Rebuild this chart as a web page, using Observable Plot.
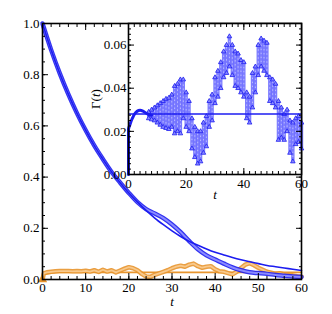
<!DOCTYPE html>
<html><head><meta charset="utf-8">
<script src="https://cdn.jsdelivr.net/npm/d3@7"></script>
<script src="https://cdn.jsdelivr.net/npm/@observablehq/plot@0.6"></script>
<style>
body{margin:0;background:#fff}
#c{position:relative;width:332px;height:314px;background:#fff}
#c svg{position:absolute;left:0;top:0;overflow:visible}
#c svg, #c svg text, #c svg g{font-family:"Liberation Serif","DejaVu Serif",serif !important;font-size:13px}
</style></head><body><div id="c"></div>
<script>
// ---- main panel data ----
const tMain = [0,2,4,6,8,10,12,14,16,18,20,22,24,26,28,30,32,34,36,38,40,42,44,46,48,50,52,54,56,58,60];
const fitMain = [1,0.897,0.805,0.723,0.649,0.583,0.523,0.47,0.42,0.378,0.338,0.302,0.27,0.24,0.214,0.19,0.168,0.149,0.134,0.119,0.106,0.096,0.086,0.077,0.069,0.062,0.055,0.05,0.045,0.04,0.035];
const dataMain = [1,0.897,0.805,0.723,0.649,0.583,0.523,0.47,0.42,0.378,0.338,0.302,0.275,0.258,0.24,0.215,0.185,0.15,0.118,0.094,0.078,0.062,0.047,0.036,0.028,0.025,0.022,0.018,0.015,0.012,0.01];
const tOrange = [0,0.3,1,2,3,4,5,6,7,8,9,10,11,12,13,14,15,16,17,18,19,20,21,22,23,24,25,26,27,28,29,30,31,32,33,34,35,36,37,38,39,40,41,42,43,44,45,46,47,48,49,50,51,52,53,54,55,56,57,58,59,60];
const orangeData = [0,0.024,0.028,0.03,0.032,0.033,0.033,0.033,0.032,0.033,0.032,0.034,0.031,0.036,0.03,0.038,0.031,0.036,0.028,0.035,0.042,0.048,0.044,0.036,0.022,0.012,0.01,0.018,0.024,0.03,0.036,0.044,0.05,0.054,0.05,0.058,0.062,0.052,0.046,0.05,0.052,0.04,0.032,0.03,0.025,0.02,0.03,0.045,0.058,0.064,0.056,0.046,0.038,0.03,0.026,0.022,0.024,0.02,0.018,0.016,0.013,0.012];
const tOrangeFit = [0,1,2,3,4,5,60];
const orangeFit = [0.018,0.022,0.025,0.027,0.028,0.028,0.028];
const mainXTicks = [0,10,20,30,40,50,60];
const mainYTicks = [0,0.2,0.4,0.6,0.8,1];

// ---- inset data ----
const tEarly = [0,0,0.5,1,1.5,2,3,4,5,6,7,8];
const gEarly = [0,0.021,0.023,0.025,0.0265,0.0278,0.0293,0.0298,0.0294,0.0285,0.0278,0.0275];
const tScatter = [7,8,9,10,11,12,13,14,15,16,17,18,19,20,21,22,23,24,25,26,27,28,29,30,31,32,33,34,35,36,37,38,39,40,41,42,43,44,45,46,47,48,49,50,51,52,53,54,55,56,57,58,59,60];
const gLow = [0.026,0.0255,0.025,0.024,0.023,0.022,0.0215,0.021,0.022,0.019,0.02,0.019,0.026,0.022,0.02,0.012,0.008,0.005,0.006,0.01,0.013,0.022,0.025,0.033,0.036,0.04,0.045,0.047,0.05,0.046,0.041,0.04,0.038,0.036,0.026,0.024,0.031,0.038,0.046,0.05,0.048,0.046,0.034,0.033,0.031,0.016,0.017,0.016,0.02,0.01,0.006,0.014,0.015,0.012];
const gHigh = [0.029,0.03,0.031,0.032,0.033,0.034,0.035,0.0355,0.037,0.041,0.042,0.044,0.044,0.038,0.034,0.026,0.022,0.02,0.02,0.024,0.027,0.034,0.037,0.045,0.048,0.052,0.057,0.06,0.064,0.06,0.057,0.056,0.053,0.052,0.038,0.036,0.047,0.05,0.06,0.063,0.062,0.061,0.045,0.044,0.042,0.034,0.031,0.028,0.03,0.025,0.024,0.026,0.027,0.024];
const gammaFit = 0.028;
const insetXTicks = [0,20,40,60];
const insetYTicks = [0,0.02,0.04,0.06];

const BLUE = "#1c1cf0", BLUE_L = "#8a8aff", BLUE_M = "#5c5cff", ORANGE = "#e8952e", ORANGE_L = "#f8c98c";
const FONT = "Liberation Serif";
const font = {fontFamily:FONT, fontSize:"13px", color:"black", background:"transparent", overflow:"visible"};

function tickAxes(axis, anchors, major, minor){
  const A = axis === "x" ? Plot.axisX : Plot.axisY;
  const out = [];
  for (const a of anchors) {
    out.push(A(minor, {anchor:a, tickSize:-3, tickFormat:()=>"", label:null}));
    out.push(A(major, {anchor:a, tickSize:-6, tickFormat:()=>"", label:null}));
  }
  return out;
}

const main = Plot.plot({
  width:332, height:314, marginLeft:42, marginRight:31, marginTop:23, marginBottom:35,
  style: {...font, background:"white"},
  x:{domain:[0,60]}, y:{domain:[0,1]},
  marks:[
    Plot.line(orangeFit, {x:tOrangeFit, y:orangeFit, stroke:ORANGE, strokeWidth:1.6}),
    Plot.line(orangeData, {x:tOrange, y:orangeData, stroke:ORANGE, strokeWidth:4.6, strokeOpacity:0.9}),
    Plot.line(orangeData, {x:tOrange, y:orangeData, stroke:ORANGE_L, strokeWidth:1.8}),
    Plot.dot([0], {x:[0], y:[0], symbol:"triangle", r:2.5, fill:ORANGE, stroke:ORANGE}),
    Plot.line(dataMain, {x:tMain, y:dataMain, stroke:BLUE, strokeWidth:4.5, curve:"monotone-x", strokeOpacity:0.9}),
    Plot.line(dataMain, {x:tMain, y:dataMain, stroke:BLUE_L, strokeWidth:2, curve:"monotone-x"}),
    Plot.line(fitMain, {x:tMain, y:fitMain, stroke:BLUE, strokeWidth:1.6, curve:"monotone-x"}),
    ...tickAxes("x", ["bottom","top"], mainXTicks, d3.range(0,61,2)),
    ...tickAxes("y", ["left","right"], mainYTicks, d3.range(0,1.001,0.05)),
    Plot.axisX(mainXTicks, {anchor:"bottom", tickSize:0, tickPadding:3, fontFamily:FONT, label:"t", labelAnchor:"center", labelOffset:26, labelArrow:"none"}),
    Plot.axisY(mainYTicks, {anchor:"left", tickSize:0, tickPadding:3, fontFamily:FONT, label:null}),
    Plot.frame({stroke:"black", strokeWidth:1.6})
  ]
});

const inset = Plot.plot({
  width:332, height:314, marginLeft:128, marginRight:31, marginTop:23, marginBottom:140,
  style: font,
  x:{domain:[0,60]}, y:{domain:[0,0.07]},
  marks:[
    Plot.frame({fill:"white", stroke:null}),
    Plot.ruleX(tScatter, {x:tScatter, y1:gLow, y2:gHigh, stroke:BLUE_M, strokeWidth:3.4, strokeOpacity:0.8}),
    Plot.ruleX(tScatter, {x:tScatter, y1:gLow, y2:gHigh, stroke:"white", strokeWidth:0.8, strokeOpacity:0.6, strokeDasharray:"1.5,2.5"}),
    Plot.dot(tScatter, {x:tScatter, y:gLow, symbol:"triangle", r:1.7, stroke:BLUE, fill:BLUE_L, strokeWidth:0.8}),
    Plot.dot(tScatter, {x:tScatter, y:gHigh, symbol:"triangle", r:1.7, stroke:BLUE, fill:BLUE_L, strokeWidth:0.8}),
    Plot.line(gEarly, {x:tEarly, y:gEarly, stroke:BLUE, strokeWidth:3, curve:"monotone-x"}),
    Plot.ruleY([gammaFit], {stroke:BLUE, strokeWidth:1.5}),
    ...tickAxes("x", ["bottom","top"], insetXTicks, d3.range(0,61,2)),
    ...tickAxes("y", ["left","right"], insetYTicks, d3.range(0,0.0701,0.0025)),
    Plot.axisX(insetXTicks, {anchor:"bottom", tickSize:0, tickPadding:4, fontFamily:FONT, label:"t", labelAnchor:"center", labelOffset:24, labelArrow:"none"}),
    Plot.axisY(insetYTicks, {anchor:"left", tickSize:0, tickPadding:2, fontFamily:FONT, label:"Γ(t)", labelAnchor:"center", labelOffset:38, labelArrow:"none"}),
    Plot.frame({stroke:"black", strokeWidth:1.6})
  ]
});

const c = document.getElementById("c");
c.appendChild(main);
c.appendChild(inset);

for (const svg of [main, inset]) {
  svg.querySelectorAll("text").forEach(t => { t.setAttribute("font-family", FONT); });
  svg.querySelectorAll('[aria-label="x-axis label"] text').forEach(t => { t.setAttribute("font-style","italic"); });
  svg.querySelectorAll('[aria-label="y-axis label"] text').forEach(t => {
    const s = t.textContent;
    if (s.includes("Γ")) {
      t.textContent = "";
      const a = document.createElementNS("http://www.w3.org/2000/svg","tspan"); a.textContent = "Γ(";
      const b = document.createElementNS("http://www.w3.org/2000/svg","tspan"); b.textContent = "t"; b.setAttribute("font-style","italic");
      const d = document.createElementNS("http://www.w3.org/2000/svg","tspan"); d.textContent = ")";
      t.append(a,b,d);
    }
  });
}
</script></body></html>
